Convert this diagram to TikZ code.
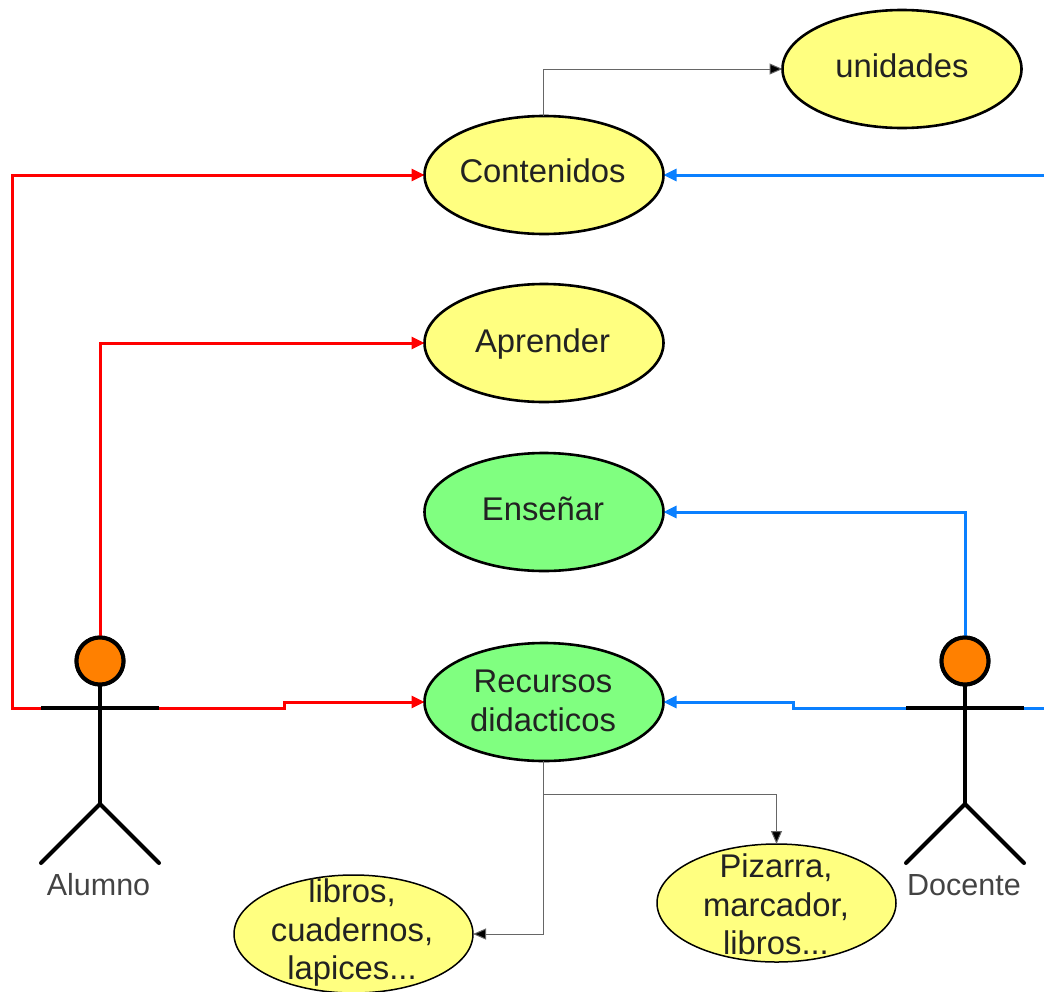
\documentclass[tikz,border=0pt]{standalone}
\usepackage{fontspec}
\setmainfont{Liberation Sans}
\usetikzlibrary{shapes.geometric,arrows.meta}
\definecolor{ucyellow}{HTML}{FFFF80}
\definecolor{ucgreen}{HTML}{80FF80}
\definecolor{ucorange}{HTML}{FF8000}
\definecolor{ucblue}{HTML}{0A80FF}
\definecolor{uctext}{HTML}{222222}
\definecolor{ucgray}{HTML}{666666}
\tikzset{
  usecase/.style={ellipse,draw=black,line width=#1,minimum width=239pt,minimum height=118pt,inner sep=0pt,outer sep=0pt},
  usecase/.default=2.6pt,
  uctitle/.style={text=uctext,align=center,font=\fontsize{32.8}{38.5}\selectfont,inner sep=0pt},
  yellowcase/.style={usecase,fill=ucyellow},
  greencase/.style={usecase,fill=ucgreen},
  smallcase/.style={usecase=1.5pt,fill=ucyellow},
  redlink/.style={draw=red,line width=3pt,-{Triangle[length=13pt,width=12pt]}},
  bluelink/.style={draw=ucblue,line width=3pt,-{Triangle[length=13pt,width=12pt]}},
  blueplain/.style={draw=ucblue,line width=3pt},
  thinlink/.style={draw=ucgray,line width=1pt,-{Triangle[length=13pt,width=11pt,fill=black]}},
  thinplain/.style={draw=ucgray,line width=1pt},
  actorline/.style={draw=black,line width=4pt},
  actorhead/.style={circle,draw=black,fill=ucorange,line width=4pt,minimum size=47pt,inner sep=0pt,outer sep=0pt},
  actorname/.style={text=uctext!85,font=\fontsize{30.5}{36}\selectfont,inner sep=0pt},
}
\begin{document}
\begin{tikzpicture}[x=1pt,y=-1pt]
\useasboundingbox (0,0) rectangle (1044,991);
% use cases
\node[yellowcase] (uni) at (902,69) {};
\node[uctitle] (unit) at (902,66) {unidades};
\node[yellowcase] (con) at (544,175) {};
\node[uctitle] (cont) at (542.5,171) {Contenidos};
\node[yellowcase] (apr) at (544,343) {};
\node[uctitle] (aprt) at (542.5,344) {Aprender};
\node[greencase] (ens) at (544,512) {};
\node[uctitle] (enst) at (543,509) {Enseñar};
\node[greencase] (rec) at (544,702) {};
\node[uctitle] (rect) at (543,701) {Recursos\\didacticos};
\node[smallcase] (lib) at (353.5,934) {};
\node[uctitle] (libt) at (352,933) {libros,\\cuadernos,\\lapices...};
\node[smallcase] (piz) at (776.5,903) {};
\node[uctitle] (pizt) at (776,904.5) {Pizarra,\\marcador,\\libros...};
% actor anchors
\node[actorhead] (alh) at (100,661) {};
\node[actorhead] (doh) at (965,661) {};
\coordinate (alL) at (41,708);
\coordinate (alR) at (159,708);
\coordinate (alH) at (100,804);
\coordinate (alFL) at (41,863);
\coordinate (alFR) at (159,863);
\coordinate (doL) at (906,708);
\coordinate (doR) at (1024,708);
\coordinate (doH) at (965,804);
\coordinate (doFL) at (906,863);
\coordinate (doFR) at (1024,863);
\coordinate (alBend) at (12,708);
\coordinate (alStepA) at (284,708);
\coordinate (alStepB) at (284,702);
\coordinate (doStepA) at (793,708);
\coordinate (doStepB) at (793,702);
\coordinate (edgeTop) at (1044,175);
\coordinate (edgeLow) at (1044,708);
\coordinate (branch) at (543,794);
\coordinate (conTop) at (543,116);
\coordinate (recLow) at (543,761);
% connectors
\draw[redlink] (alL) -- (alBend) |- (con.west);
\draw[redlink] (alh.north) |- (apr.west);
\draw[redlink] (alR) -- (alStepA) -- (alStepB) -- (rec.west);
\draw[bluelink] (edgeTop) -- (con.east);
\draw[bluelink] (doh.north) |- (ens.east);
\draw[bluelink] (doL) -- (doStepA) -- (doStepB) -- (rec.east);
\draw[blueplain] (edgeLow) -- (doR);
\draw[thinlink] (conTop) |- (uni.west);
\draw[thinplain] (recLow) -- (branch);
\draw[thinlink] (branch) -| (piz.north);
\draw[thinlink] (branch) |- (lib.east);
% actors
\draw[actorline] (alL) -- (alR);
\draw[actorline] (alh.south) -- (alH);
\draw[actorline,line cap=round] (alFL) -- (alH) -- (alFR);
\draw[actorline] (doL) -- (doR);
\draw[actorline] (doh.south) -- (doH);
\draw[actorline,line cap=round] (doFL) -- (doH) -- (doFR);
\node[actorhead] at (alh) {};
\node[actorhead] at (doh) {};
\node[actorname] (alt) at (98.5,885) {Alumno};
\node[actorname] (dot) at (964,885) {Docente};
\end{tikzpicture}
\end{document}
